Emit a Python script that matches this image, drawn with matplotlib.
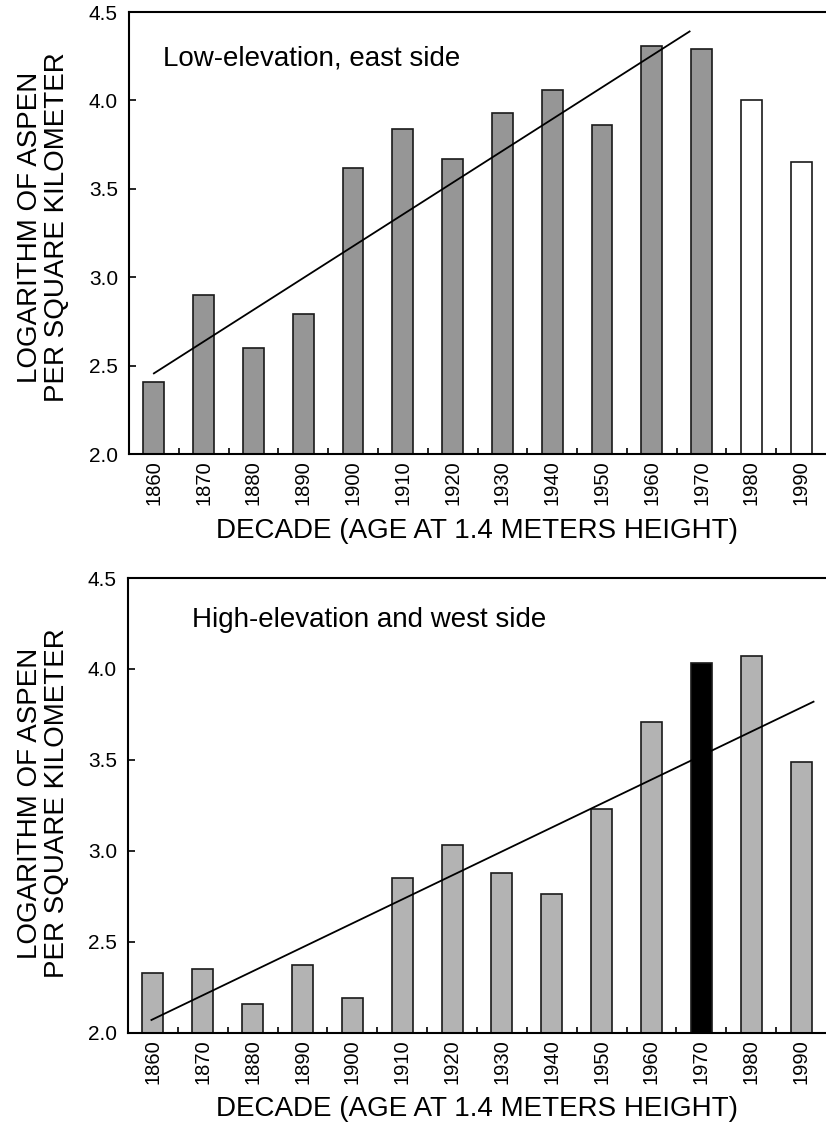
import matplotlib

matplotlib.use("Agg")
import matplotlib.pyplot as plt  # noqa: E402

plt.rcParams["font.family"] = ["Liberation Sans", "DejaVu Sans"]

# decades (age at 1.4 m height)
decades = [1860, 1870, 1880, 1890, 1900, 1910, 1920,
           1930, 1940, 1950, 1960, 1970, 1980, 1990]
decade_labels = [str(d) for d in decades]

# log10 aspen per km^2
low_east = [2.41, 2.90, 2.60, 2.79, 3.62, 3.84, 3.67,
            3.93, 4.06, 3.86, 4.31, 4.29, 4.00, 3.65]
high_west = [2.33, 2.35, 2.16, 2.37, 2.19, 2.85, 3.03,
             2.88, 2.76, 3.23, 3.71, 4.03, 4.07, 3.49]

# fitted trend lines (end points)
low_trend_x = [1860, 1967.6]
low_trend_y = [2.456, 4.39]
high_trend_x = [1859.7, 1992.5]
high_trend_y = [2.07, 3.82]

y_ticks = [2.0, 2.5, 3.0, 3.5, 4.0, 4.5]

# bar fills
low_colors = ["#969696"] * 12 + ["white"] * 2
high_colors = ["#b3b3b3"] * 11 + ["black"] + ["#b3b3b3"] * 2

W, H = 826, 1130


def draw_panel(ax, values, colors, tx, ty, note, note_xy):
    ax.bar(decades, values, width=4.2, color=colors,
           edgecolor="#1a1a1a", linewidth=1.2, zorder=2)
    ax.plot(tx, ty, color="black", linewidth=1.3, zorder=3)

    ax.set_xlim(1855, 1995)
    ax.set_ylim(2.0, 4.5)

    ax.set_xticks(decades)
    ax.set_xticklabels(decade_labels, rotation=90, fontsize=14.5)
    ax.set_xticks([d + 5 for d in decades[:-1]], minor=True)
    ax.tick_params(axis="x", which="major", length=0, pad=4.5)
    ax.tick_params(axis="x", which="minor", direction="in",
                   length=4, width=1.2)

    ax.set_yticks(y_ticks)
    ax.set_yticklabels([f"{v:.1f}" for v in y_ticks], fontsize=15)
    ax.tick_params(axis="y", direction="in", length=5, width=1.2, pad=8)

    for side in ("left", "bottom", "top"):
        ax.spines[side].set_linewidth(1.5)
    ax.spines["right"].set_visible(False)

    ax.set_xlabel("DECADE (AGE AT 1.4 METERS HEIGHT)", fontsize=20,
                  labelpad=9)
    ax.text(note_xy[0], note_xy[1], note, transform=ax.transAxes,
            fontsize=20, ha="left", va="baseline")


fig = plt.figure(figsize=(W / 100, H / 100), dpi=100)

ax_top = fig.add_axes([129 / W, 1 - 454 / H, 1 - 129 / W, 442 / H])
draw_panel(ax_top, low_east, low_colors, low_trend_x, low_trend_y,
           "Low-elevation, east side", (0.049, 0.880))

ax_bot = fig.add_axes([128 / W, 1 - 1032.7 / H, 1 - 128 / W, 454.7 / H])
draw_panel(ax_bot, high_west, high_colors, high_trend_x, high_trend_y,
           "High-elevation and west side", (0.091, 0.893))

ylab = "LOGARITHM OF ASPEN\nPER SQUARE KILOMETER"
fig.text(44 / W, 1 - 227 / H, ylab, rotation=90, fontsize=20,
         ha="center", va="center", multialignment="center", linespacing=1.05)
fig.text(44 / W, 1 - 803 / H, ylab, rotation=90, fontsize=20,
         ha="center", va="center", multialignment="center", linespacing=1.05)

fig.savefig("out.png", dpi=100)
plt.close(fig)
